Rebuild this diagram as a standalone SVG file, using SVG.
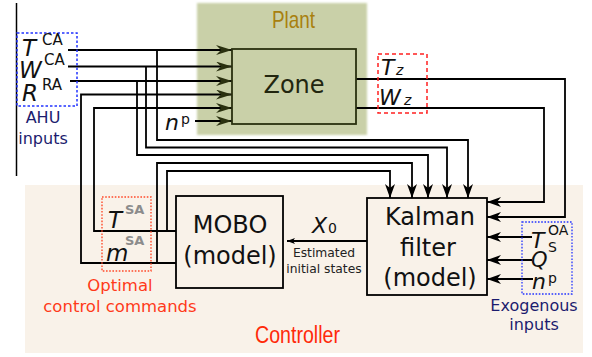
<svg xmlns="http://www.w3.org/2000/svg" width="592" height="357" viewBox="0 0 592 357">
<style>
.t{font-family:"DejaVu Sans","Noto Sans",sans-serif;fill:#111}
.i{font-style:italic}
.u{font-style:normal}
.w{fill:none;stroke:#000;stroke-width:1.8}
.n{font-family:"Liberation Sans Narrow","Liberation Sans",Arial,sans-serif}
</style>
<defs>
<marker id="ah" markerUnits="userSpaceOnUse" markerWidth="14" markerHeight="10" viewBox="0 0 14 10" refX="14" refY="5" orient="auto">
<path d="M0,0 L14,5 L0,10 L4,5 z" fill="#000"/>
</marker>
<marker id="ag" markerUnits="userSpaceOnUse" markerWidth="16" markerHeight="10" viewBox="0 0 16 10" refX="16" refY="5" orient="auto">
<path d="M0,0 L16,5 L0,10 L5,5 z" fill="#2a300f"/>
</marker>
<marker id="as" markerUnits="userSpaceOnUse" markerWidth="8" markerHeight="6" viewBox="0 0 8 6" refX="8" refY="3" orient="auto">
<path d="M0,0 L8,3 L0,6 L2,3 z" fill="#000"/>
</marker>
<filter id="soft" x="-5%" y="-5%" width="110%" height="110%"><feGaussianBlur stdDeviation="1.2"/></filter>
<filter id="blur" x="-20%" y="-20%" width="140%" height="140%"><feGaussianBlur stdDeviation="0.6"/></filter>
</defs>

<!-- backgrounds -->
<g id="plant">
<rect x="197" y="3" width="170" height="132" fill="#c9d0a8" filter="url(#soft)"/>
<text x="272" y="28" class="n" font-size="24" fill="#a8800e" textLength="43" lengthAdjust="spacingAndGlyphs">Plant</text>
</g>
<g id="controller">
<rect x="25" y="185" width="558" height="168" fill="#f9f2e9"/>
<text x="255" y="343" class="n" font-size="23" fill="#ff2a0a" textLength="85" lengthAdjust="spacingAndGlyphs">Controller</text>
</g>

<line x1="16.5" y1="3" x2="16.5" y2="176" stroke="#000" stroke-width="1.5"/>

<!-- connectors -->
<g id="connectors">
<path class="w" d="M68,50 H232" marker-end="url(#ag)"/>
<path class="w" d="M68,66.5 H232" marker-end="url(#ag)"/>
<path class="w" d="M70,81 H232" marker-end="url(#ag)"/>
<path class="w" d="M176,263 H81 V94.5 H232" marker-end="url(#ag)"/>
<path class="w" d="M176,231 H94 V108 H232" marker-end="url(#ag)"/>
<path class="w" d="M195,121 H232" stroke="#2a300f" marker-end="url(#ag)"/>
<path class="w" d="M157,50 V140 H468 V198" marker-end="url(#ah)"/>
<path class="w" d="M146,66.5 V147.5 H447 V198" marker-end="url(#ah)"/>
<path class="w" d="M137,81 V155 H428 V198" marker-end="url(#ah)"/>
<path class="w" d="M157,263 V163 H412 V198" marker-end="url(#ah)"/>
<path class="w" d="M167,231 V171 H390 V198" marker-end="url(#ah)"/>
<path class="w" d="M356,79 H565 V217 H487" marker-end="url(#ah)"/>
<path class="w" d="M356,108 H544 V202 H487" marker-end="url(#ah)"/>
<path class="w" d="M532,237 H487" marker-end="url(#ah)"/>
<path class="w" d="M532,260 H487" marker-end="url(#ah)"/>
<path class="w" d="M533,279 H487" marker-end="url(#ah)"/>
<path class="w" d="M367,241 H287" stroke-width="1.3" marker-end="url(#as)"/>
</g>

<!-- AHU inputs -->
<g id="ahu">
<rect x="17" y="33" width="60" height="73" fill="none" stroke="#2233ff" stroke-width="1.5" stroke-dasharray="2.5,2"/>
<text x="22" y="56" class="t i" font-size="23">T<tspan x="42" y="45" class="u" font-size="15">CA</tspan></text>
<text x="19" y="78" class="t i" font-size="23">W<tspan x="44" y="65" class="u" font-size="15">CA</tspan></text>
<text x="22" y="101" class="t i" font-size="23">R<tspan x="42" y="90" class="u" font-size="15">RA</tspan></text>
<text x="43" y="123" class="t" font-size="16" text-anchor="middle" style="fill:#1c1c6e">AHU</text>
<text x="43" y="144" class="t" font-size="16" text-anchor="middle" style="fill:#1c1c6e">inputs</text>
</g>

<!-- Zone -->
<g id="zone">
<rect x="232" y="49" width="124" height="75" fill="#c9d0a8" stroke="#2a300f" stroke-width="1.8"/>
<text x="294" y="93" class="t" font-size="24" text-anchor="middle" style="fill:#22260f">Zone</text>
</g>

<g id="np-plant">
<text x="165" y="130" class="t i" font-size="22">n<tspan x="181" y="124" class="u" font-size="14">p</tspan></text>
</g>

<!-- Zone outputs -->
<g id="zone-outputs">
<rect x="378" y="54" width="49" height="59" fill="none" stroke="#ff2020" stroke-width="1.5" stroke-dasharray="4,3"/>
<text x="381" y="75" class="t i" font-size="22">T<tspan x="396" font-size="14">z</tspan></text>
<text x="379" y="105" class="t i" font-size="22">W<tspan x="404" font-size="14">z</tspan></text>
</g>

<!-- MOBO -->
<g id="mobo">
<rect x="176" y="196" width="107" height="92" fill="#f9f2e9" stroke="#000" stroke-width="1.8"/>
<text x="230" y="233" class="t" font-size="24" text-anchor="middle">MOBO</text>
<text x="230" y="264" class="t" font-size="24" text-anchor="middle">(model)</text>
</g>

<!-- Kalman -->
<g id="kalman">
<rect x="367" y="198" width="120" height="97" fill="#f9f2e9" stroke="#000" stroke-width="1.8"/>
<text x="430" y="225" class="t" font-size="24" text-anchor="middle">Kalman</text>
<text x="428" y="256" class="t" font-size="24" text-anchor="middle">filter</text>
<text x="430" y="286" class="t" font-size="24" text-anchor="middle">(model)</text>
</g>

<!-- estimated states -->
<g id="x0">
<text x="312" y="233" class="t i" font-size="22">X<tspan x="328" class="u" font-size="14">0</tspan></text>
<text x="324" y="257" class="t" font-size="12.3" text-anchor="middle" style="fill:#222">Estimated</text>
<text x="324" y="273" class="t" font-size="12.3" text-anchor="middle" style="fill:#222">initial states</text>
</g>

<!-- Optimal control commands -->
<g id="optimal">
<rect x="102" y="197" width="49" height="74" fill="none" stroke="#ff4a2a" stroke-width="1.4" stroke-dasharray="1.6,1.6"/>
<text x="108" y="228" class="t i" font-size="23">T<tspan x="125" y="214" class="u" font-size="13" font-weight="bold" style="fill:#8c8c8c">SA</tspan></text>
<text x="106" y="261" class="t i" font-size="23">m<tspan x="125" y="245" class="u" font-size="13" font-weight="bold" style="fill:#8c8c8c">SA</tspan></text>
<text x="120" y="291" class="t" font-size="16.5" text-anchor="middle" style="fill:#ff3a1a">Optimal</text>
<text x="120" y="312" class="t" font-size="16.5" text-anchor="middle" style="fill:#ff3a1a">control commands</text>
</g>

<!-- Exogenous inputs -->
<g id="exogenous">
<rect x="522" y="222" width="50" height="72" fill="none" stroke="#2233ff" stroke-width="1.3" stroke-dasharray="1.6,1.6"/>
<text x="531" y="248" class="t i" font-size="22">T<tspan x="548" y="235" class="u" font-size="14">OA</tspan><tspan x="548" y="252" class="u" font-size="14">S</tspan></text>
<text x="531" y="267" class="t i" font-size="21">Q</text>
<text x="532" y="289" class="t i" font-size="22">n<tspan x="548" y="283" class="u" font-size="14">p</tspan></text>
<text x="534" y="311" class="t" font-size="16" text-anchor="middle" style="fill:#1c1c6e">Exogenous</text>
<text x="534" y="330" class="t" font-size="16" text-anchor="middle" style="fill:#1c1c6e">inputs</text>
</g>
</svg>
